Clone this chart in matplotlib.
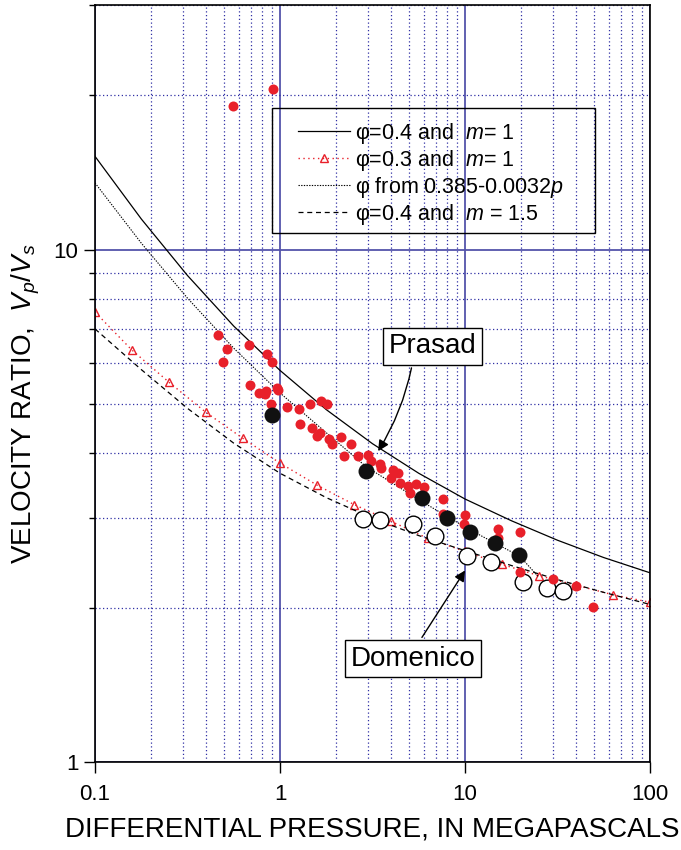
import matplotlib
matplotlib.use("Agg")
import matplotlib.pyplot as plt
from matplotlib.patches import Rectangle
from matplotlib.ticker import FixedLocator, NullFormatter

plt.rcParams['font.family'] = ['Liberation Sans', 'DejaVu Sans']
plt.rcParams['mathtext.fontset'] = 'custom'
plt.rcParams['mathtext.rm'] = 'Liberation Sans'
plt.rcParams['mathtext.it'] = 'Liberation Sans:italic'

# model curves
solid_p = [0.1, 0.178, 0.316, 0.562, 1, 1.78, 3.16, 5.62, 10, 17.8, 31.6, 56.2, 100]
solid_r = [15.2, 11.47, 8.90, 7.09, 5.81, 4.87, 4.18, 3.66, 3.26, 2.957, 2.709, 2.506, 2.34]

phi03_p = [0.1, 0.158, 0.251, 0.398, 0.631, 1.0, 1.585, 2.512, 3.98, 6.31, 10.0, 15.85, 25.1, 39.8, 63.1, 100]
phi03_r = [7.55, 6.37, 5.51, 4.81, 4.28, 3.83, 3.47, 3.18, 2.95, 2.73, 2.576, 2.43, 2.31, 2.213, 2.12, 2.05]

varphi_p = [0.1, 0.178, 0.316, 0.562, 1.0, 1.78, 2.92, 5.87, 10.6, 19.8, 24.9]
varphi_r = [13.49, 10.29, 8.04, 6.42, 5.25, 4.39, 3.77, 3.22, 2.84, 2.52, 2.30]

m15_p = [0.1, 0.178, 0.316, 0.562, 1.0, 1.78, 3.16, 5.62, 10, 17.8, 31.6, 56.2, 100]
m15_r = [7.0, 5.83, 4.90, 4.19, 3.66, 3.28, 2.99, 2.766, 2.585, 2.418, 2.27, 2.143, 2.03]

# measured data
red_p = [0.56, 0.92, 0.464, 0.515, 0.494, 0.680, 0.847, 0.902, 0.689, 0.773, 0.837, 0.83,
         0.96, 0.97, 0.891, 1.09, 1.26, 1.45, 1.66, 1.79, 1.28, 1.48, 1.58, 1.64, 1.85, 1.90,
         2.13, 2.42, 2.23, 2.63, 2.99, 3.09, 3.47, 3.50, 4.07, 3.98, 4.36, 4.48, 4.94, 5.04,
         5.43, 6.0, 7.58, 7.65, 10.0, 9.9, 15.1, 15.0, 19.8, 19.8, 29.8, 39.6, 49.4]
red_r = [19.1, 20.6, 6.82, 6.39, 6.03, 6.52, 6.26, 6.03, 5.43, 5.25, 5.29, 5.22,
         5.38, 5.32, 5.00, 4.93, 4.89, 4.99, 5.06, 5.00, 4.56, 4.49, 4.33, 4.38, 4.26, 4.17,
         4.31, 4.17, 3.96, 3.96, 3.98, 3.86, 3.81, 3.74, 3.72, 3.59, 3.67, 3.51, 3.46, 3.35,
         3.49, 3.44, 3.26, 3.05, 3.04, 2.91, 2.85, 2.74, 2.81, 2.35, 2.28, 2.21, 2.01]

prasad_p = [0.91, 2.92, 5.87, 8.0, 10.6, 14.5, 19.7]
prasad_r = [4.76, 3.70, 3.27, 2.99, 2.81, 2.67, 2.53]

domenico_p = [2.80, 3.47, 5.21, 6.89, 10.3, 13.8, 20.5, 27.6, 34.0]
domenico_r = [2.98, 2.96, 2.92, 2.76, 2.52, 2.46, 2.25, 2.19, 2.16]

legend_labels = ['φ=0.4 and  $m$= 1', 'φ=0.3 and  $m$= 1',
                 'φ from 0.385-0.0032$p$', 'φ=0.4 and  $m$ = 1.5']

fig = plt.figure(figsize=(6.81, 8.5), dpi=100)
ax = fig.add_axes([0.1395, 0.1035, 0.815, 0.8906])
ax.set_xscale('log')
ax.set_yscale('log')
ax.set_xlim(0.1, 100)
ax.set_ylim(1, 30)

red = '#e8202a'
l1, = ax.plot(solid_p, solid_r, color='black', lw=0.9, zorder=2)
l2, = ax.plot(phi03_p, phi03_r, color=red, lw=1.0, ls=(0, (1, 2.5)), marker='^',
              ms=6, mfc='none', mec=red, mew=1.0, zorder=2)
l3, = ax.plot(varphi_p, varphi_r, color='black', lw=0.8, ls=(0, (1.2, 1.2)), zorder=2)
l4, = ax.plot(m15_p, m15_r, color='black', lw=0.9, ls=(0, (4, 3)), zorder=2)

ax.plot(domenico_p, domenico_r, 'o', ms=12, mfc='white', mec='black', mew=1.0, zorder=3)
ax.plot(red_p, red_r, 'o', ms=7.2, color=red, mec='none', zorder=4)
ax.plot(prasad_p, prasad_r, 'o', ms=11.5, color='#111111', mec='none', zorder=5)

# ticks and grid
ax.xaxis.set_major_locator(FixedLocator([0.1, 1, 10, 100]))
ax.set_xticklabels(['0.1', '1', '10', '100'])
ax.xaxis.set_minor_locator(FixedLocator([k * d for d in [0.1, 1, 10] for k in range(2, 10)]))
ax.xaxis.set_minor_formatter(NullFormatter())
ax.yaxis.set_major_locator(FixedLocator([1, 10]))
ax.set_yticklabels(['1', '10'])
ax.yaxis.set_minor_locator(FixedLocator([2, 3, 4, 5, 6, 7, 8, 9, 20, 30]))
ax.yaxis.set_minor_formatter(NullFormatter())

ax.tick_params(axis='both', which='major', direction='out', length=8, width=1,
               labelsize=16, color='black')
ax.tick_params(axis='x', which='major', pad=8)
ax.tick_params(axis='y', which='major', pad=4)
ax.tick_params(axis='x', which='minor', length=0)
ax.tick_params(axis='y', which='minor', direction='out', length=4, width=1)

ax.grid(True, which='major', color='#5454aa', lw=1.3, ls='-', zorder=0)
ax.grid(True, which='minor', color='#3030a5', lw=0.9, ls=(0, (1, 2)), zorder=0)
ax.set_axisbelow(True)
for s in ax.spines.values():
    s.set_linewidth(1.2)
    s.set_color('black')

ax.set_xlabel('DIFFERENTIAL PRESSURE, IN MEGAPASCALS', fontsize=20)
ax.set_ylabel('VELOCITY RATIO,  $V_p/V_s$', fontsize=20)
ax.xaxis.set_label_coords(0.5, -0.072)
ax.yaxis.set_label_coords(-0.095, 0.473)

# legend without its own frame, boxed by a plain rectangle
leg = ax.legend([l1, l2, l3, l4], legend_labels,
                loc='upper left', bbox_to_anchor=(0.3658, 0.8468), fontsize=15.5,
                numpoints=1, handlelength=2.42, handletextpad=0.23, labelspacing=0.09,
                borderpad=0, borderaxespad=0, frameon=False)
ax.add_patch(Rectangle((0.3189, 0.6988), 0.582, 0.1651, transform=ax.transAxes,
                       fill=False, ec='black', lw=1.0, zorder=6))

box = dict(boxstyle='square,pad=0.2', fc='white', ec='black', lw=1.0)
ax.annotate('Prasad', xy=(3.33, 4.0), xytext=(6.67, 6.48), ha='center', va='center',
            fontsize=20, bbox=box, zorder=6,
            arrowprops=dict(arrowstyle='-|>', color='black', lw=1.0, mutation_scale=16,
                            connectionstyle='arc3,rad=-0.1', relpos=(0.28, 0.0)))
ax.annotate('Domenico', xy=(10.2, 2.39), xytext=(5.22, 1.59), ha='center', va='center',
            fontsize=20, bbox=box, zorder=6,
            arrowprops=dict(arrowstyle='-|>', color='black', lw=1.0, mutation_scale=16,
                            relpos=(0.53, 1.0)))

fig.savefig('out.png', dpi=100)
